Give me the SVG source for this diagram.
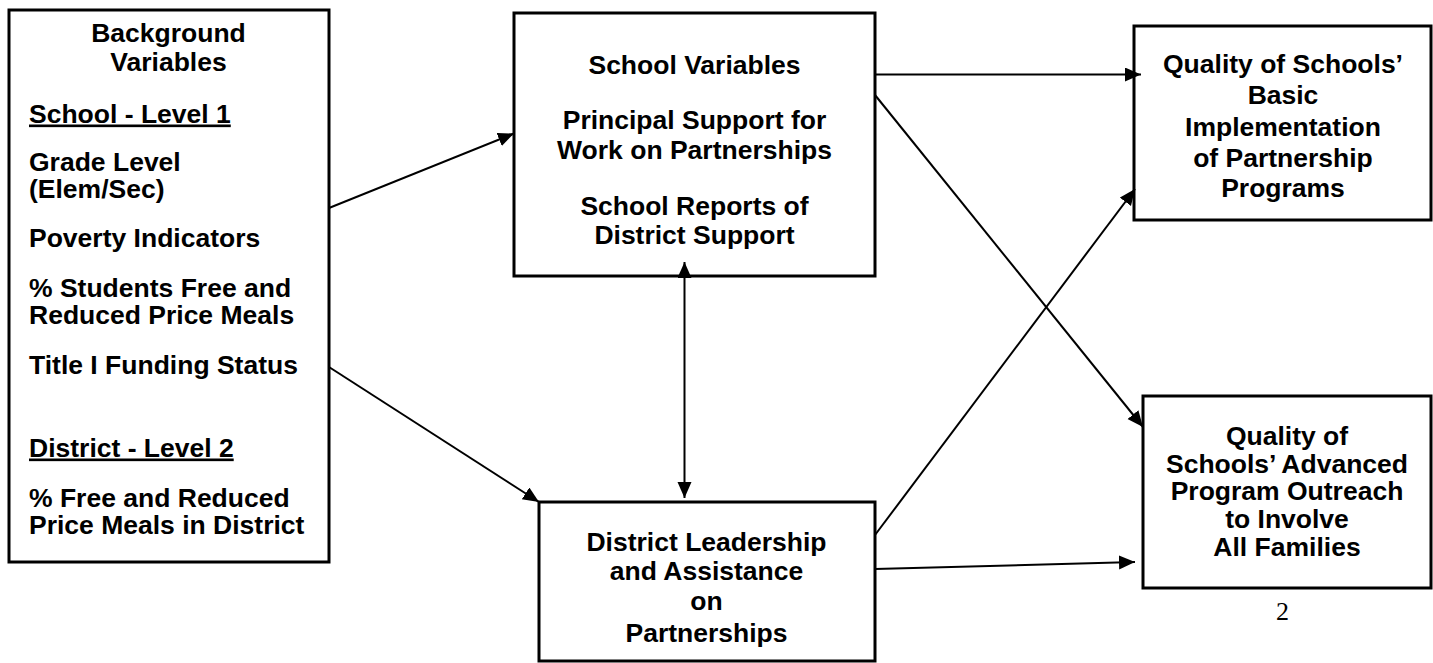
<svg xmlns="http://www.w3.org/2000/svg" width="1433" height="663" viewBox="0 0 1433 663">
<style>
  .box { fill: #ffffff; stroke: #000000; stroke-width: 3; }
  .t { font-family: "Liberation Sans", Arial, sans-serif; font-weight: bold; font-size: 26.5px; fill: #000000; }
  .c { text-anchor: middle; }
  .u { text-decoration: underline; }
  .conn line { stroke: #000000; stroke-width: 2; fill: none; }
  .pg { font-family: "Liberation Serif", "Times New Roman", serif; font-size: 26px; fill: #000000; text-anchor: middle; }
</style>
<defs>
  <marker id="ah" markerUnits="userSpaceOnUse" markerWidth="18" markerHeight="16" refX="16" refY="7" orient="auto-start-reverse">
    <path d="M0,0 L16,7 L0,14 Z" fill="#000000"/>
  </marker>
</defs>
<rect width="1433" height="663" fill="#ffffff"/>

<g id="background-variables">
  <rect class="box" x="9" y="10" width="320" height="552"/>
  <text class="t c" x="168.5" y="42">Background</text>
  <text class="t c" x="168.5" y="71">Variables</text>
  <text class="t u" x="29" y="122.5">School - Level 1</text>
  <text class="t" x="29" y="171">Grade Level</text>
  <text class="t" x="29" y="197.5">(Elem/Sec)</text>
  <text class="t" x="29" y="247">Poverty Indicators</text>
  <text class="t" x="29" y="297">% Students Free and</text>
  <text class="t" x="29" y="323.5">Reduced Price Meals</text>
  <text class="t" x="29" y="374">Title I Funding Status</text>
  <text class="t u" x="29" y="456.5">District - Level 2</text>
  <text class="t" x="29" y="506.5">% Free and Reduced</text>
  <text class="t" x="29" y="533.5">Price Meals in District</text>
</g>

<g id="school-variables">
  <rect class="box" x="514" y="13" width="361" height="263"/>
  <text class="t c" x="694.5" y="74">School Variables</text>
  <text class="t c" x="694.5" y="129">Principal Support for</text>
  <text class="t c" x="694.5" y="158.5">Work on Partnerships</text>
  <text class="t c" x="694.5" y="214.5">School Reports of</text>
  <text class="t c" x="694.5" y="244">District Support</text>
</g>

<g id="district-leadership">
  <rect class="box" x="539" y="502" width="336" height="159"/>
  <text class="t c" x="706.5" y="551">District Leadership</text>
  <text class="t c" x="706.5" y="580">and Assistance</text>
  <text class="t c" x="706.5" y="609.5">on</text>
  <text class="t c" x="706.5" y="641.5">Partnerships</text>
</g>

<g id="basic-implementation">
  <rect class="box" x="1134" y="26" width="297" height="194"/>
  <text class="t c" x="1283" y="72.5">Quality of Schools’</text>
  <text class="t c" x="1283" y="104">Basic</text>
  <text class="t c" x="1283" y="136">Implementation</text>
  <text class="t c" x="1283" y="166.5">of Partnership</text>
  <text class="t c" x="1283" y="196.5">Programs</text>
</g>

<g id="advanced-outreach">
  <rect class="box" x="1143" y="396" width="288" height="192"/>
  <text class="t c" x="1287" y="445">Quality of</text>
  <text class="t c" x="1287" y="472.5">Schools’ Advanced</text>
  <text class="t c" x="1287" y="500">Program Outreach</text>
  <text class="t c" x="1287" y="528">to Involve</text>
  <text class="t c" x="1287" y="556">All Families</text>
</g>

<g id="connectors" class="conn">
  <line x1="329" y1="208" x2="514" y2="133.5" marker-end="url(#ah)"/>
  <line x1="329" y1="367" x2="539" y2="502" marker-end="url(#ah)"/>
  <line x1="684.5" y1="262" x2="684.5" y2="498" marker-start="url(#ah)" marker-end="url(#ah)"/>
  <line x1="875" y1="74.5" x2="1141" y2="74.5" marker-end="url(#ah)"/>
  <line x1="875" y1="95" x2="1143" y2="427" marker-end="url(#ah)"/>
  <line x1="875" y1="535" x2="1135" y2="189" marker-end="url(#ah)"/>
  <line x1="875" y1="569" x2="1135" y2="562" marker-end="url(#ah)"/>
</g>

<text class="pg" x="1282.5" y="620">2</text>
</svg>
